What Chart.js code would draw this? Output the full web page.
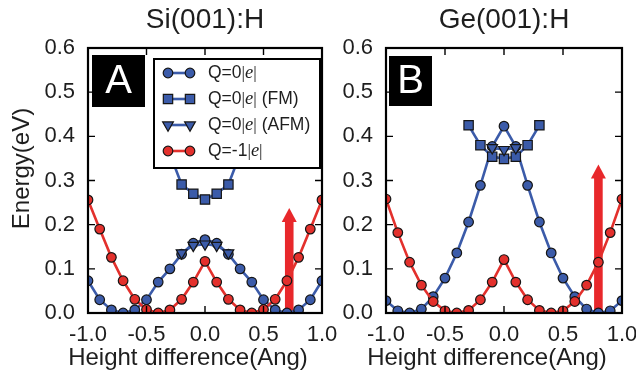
<!DOCTYPE html>
<html>
<head>
<meta charset="utf-8">
<script src="https://cdn.jsdelivr.net/npm/chart.js@4/dist/chart.umd.min.js"></script>
<style>
html,body{margin:0;padding:0;background:#ffffff;}
#wrap{position:relative;width:636px;height:379px;overflow:hidden;background:#fff;}
#wrap canvas{position:absolute;left:0;top:0;}
</style>
</head>
<body>
<div id="wrap">
<canvas id="si" width="636" height="379"></canvas>
<canvas id="ge" width="636" height="379"></canvas>
</div>
<script>
// ---------------- data ----------------
const HEIGHT_X = [-1.0,-0.9,-0.8,-0.7,-0.6,-0.5,-0.4,-0.3,-0.2,-0.1,0.0,0.1,0.2,0.3,0.4,0.5,0.6,0.7,0.8,0.9,1.0];

const SI_Q0    = [0.073,0.030,0.007,0.000,0.007,0.030,0.070,0.100,0.133,0.158,0.166,0.158,0.133,0.100,0.070,0.030,0.007,0.000,0.007,0.030,0.073];
const SI_FM_X  = [-0.3,-0.2,-0.1,0.0,0.1,0.2,0.3];
const SI_FM    = [0.360,0.291,0.270,0.257,0.270,0.291,0.360];
const SI_AFM_X = [-0.2,-0.1,0.0,0.1,0.2];
const SI_AFM   = [0.136,0.153,0.156,0.153,0.136];
const SI_QM1   = [0.256,0.190,0.126,0.073,0.031,0.008,0.000,0.007,0.031,0.070,0.117,0.070,0.031,0.007,0.000,0.008,0.031,0.073,0.126,0.190,0.256];

const GE_Q0    = [0.028,0.005,0.000,0.009,0.037,0.079,0.136,0.206,0.289,0.377,0.423,0.377,0.289,0.206,0.136,0.079,0.037,0.009,0.000,0.005,0.028];
const GE_FM_X  = [-0.3,-0.2,-0.1,0.0,0.1,0.2,0.3];
const GE_FM    = [0.425,0.380,0.354,0.349,0.354,0.380,0.425];
const GE_AFM_X = [-0.1,0.0,0.1];
const GE_AFM   = [0.374,0.370,0.374];
const GE_QM1   = [0.258,0.182,0.115,0.063,0.026,0.005,0.000,0.006,0.030,0.070,0.121,0.070,0.030,0.006,0.000,0.005,0.026,0.063,0.115,0.182,0.258];

const SERIES_LABELS = ['Q=0|e|','Q=0|e| (FM)','Q=0|e| (AFM)','Q=-1|e|'];
const PANEL_TITLES  = ['Si(001):H','Ge(001):H'];
const PANEL_LETTERS = ['A','B'];
const ARROW_X   = [0.72, 0.80];
const ARROW_TOP = [0.238, 0.336];
const X_TICKS = [-1.0,-0.5,0.0,0.5,1.0];
const Y_TICKS = [0.0,0.1,0.2,0.3,0.4,0.5,0.6];
const X_TITLE = 'Height difference(Ang)';
const Y_TITLE = 'Energy(eV)';

// ---------------- styles ----------------
const BLUE = '#3b5ba9';
const RED  = '#e3302c';
const EDGE = '#151515';
const SANS = "'Liberation Sans', Arial, Helvetica, sans-serif";
const SERIF = "'Liberation Serif', 'DejaVu Serif', serif";
const TEXT = '#1e1e1e';

const MARK = {
  circle:   {style:'circle',   radius:4.8, rotation:0},
  rect:     {style:'rect',     radius:6.6, rotation:0},
  triangle: {style:'triangle', radius:6.2, rotation:180}
};

function series(label, xs, ys, color, mark, order){
  return {
    label: label,
    data: xs.map((x,i)=>({x:x, y:ys[i]})),
    borderColor: color,
    backgroundColor: color,
    borderWidth: 2.6,
    tension: 0,
    pointStyle: mark.style,
    pointRadius: mark.radius,
    pointRotation: mark.rotation,
    pointBackgroundColor: color,
    pointBorderColor: EDGE,
    pointBorderWidth: 1.2,
    pointHoverRadius: mark.radius,
    clip: 0,
    order: order
  };
}

// own marker drawing for the legend
function marker(ctx, mark, x, y, fill){
  ctx.save();
  ctx.fillStyle = fill; ctx.strokeStyle = EDGE; ctx.lineWidth = 1.2;
  ctx.beginPath();
  const r = mark.radius;
  if (mark.style === 'circle') { ctx.arc(x, y, r, 0, Math.PI*2); }
  else if (mark.style === 'rect') { const s = Math.SQRT1_2*r; ctx.rect(x-s, y-s, 2*s, 2*s); }
  else {
    let a = mark.rotation*Math.PI/180;
    ctx.moveTo(x + Math.sin(a)*r, y - Math.cos(a)*r);
    a += 2*Math.PI/3; ctx.lineTo(x + Math.sin(a)*r, y - Math.cos(a)*r);
    a += 2*Math.PI/3; ctx.lineTo(x + Math.sin(a)*r, y - Math.cos(a)*r);
    ctx.closePath();
  }
  ctx.fill(); ctx.stroke();
  ctx.restore();
}

function richLabel(ctx, label, x, y, size){
  const parts = label.split('|e|');
  ctx.save();
  ctx.fillStyle = TEXT; ctx.textBaseline = 'middle'; ctx.textAlign = 'left';
  const segs = [
    [parts[0], `${size}px ${SANS}`],
    ['|', `${size}px ${SERIF}`],
    ['e', `italic ${size+1}px ${SERIF}`],
    ['|', `${size}px ${SERIF}`],
    [parts[1] || '', `${size}px ${SANS}`]
  ];
  let cx = x;
  for (const [t, f] of segs) {
    if (!t) continue;
    ctx.font = f; ctx.fillText(t, cx, y); cx += ctx.measureText(t).width;
  }
  ctx.restore();
}

const decor = {
  id: 'decor',
  beforeDatasetsDraw(chart, args, o){
    const {ctx, chartArea: a} = chart;
    const xs = chart.scales.x, ys = chart.scales.y;
    const px = xs.getPixelForValue(o.arrowX);
    const yb = ys.getPixelForValue(0);
    const yt = ys.getPixelForValue(o.arrowTop);
    const sw = 4.3, hw = 7.5, hl = 14;
    ctx.save();
    ctx.beginPath(); ctx.rect(a.left, a.top, a.right-a.left, a.bottom-a.top); ctx.clip();
    ctx.fillStyle = '#e8282b';
    ctx.fillRect(px-sw, yt+hl-1, 2*sw, yb-(yt+hl-1)+2);
    ctx.beginPath(); ctx.moveTo(px, yt); ctx.lineTo(px+hw, yt+hl); ctx.lineTo(px-hw, yt+hl); ctx.closePath(); ctx.fill();
    ctx.restore();
  },
  afterDatasetsDraw(chart, args, o){
    const {ctx, chartArea: a} = chart;
    const xs = chart.scales.x, ys = chart.scales.y;
    ctx.save();
    // inward ticks
    ctx.strokeStyle = '#000'; ctx.lineWidth = 1.4;
    const tl = 7;
    ctx.beginPath();
    X_TICKS.forEach(v => { const p = xs.getPixelForValue(v); ctx.moveTo(p, a.bottom); ctx.lineTo(p, a.bottom-tl); ctx.moveTo(p, a.top); ctx.lineTo(p, a.top+tl); });
    Y_TICKS.forEach(v => { const p = ys.getPixelForValue(v); ctx.moveTo(a.left, p); ctx.lineTo(a.left+tl, p); ctx.moveTo(a.right, p); ctx.lineTo(a.right-tl, p); });
    ctx.stroke();
    // frame
    ctx.lineWidth = 2.2; ctx.strokeStyle = '#000';
    ctx.strokeRect(a.left, a.top, a.right-a.left, a.bottom-a.top);
    // panel letter
    const L = o.letterBox;
    ctx.fillStyle = '#000';
    ctx.fillRect(a.left+L.dx, a.top+L.dy, L.w, L.h);
    ctx.fillStyle = '#fff'; ctx.font = `40px ${SANS}`; ctx.textAlign = 'center'; ctx.textBaseline = 'middle';
    ctx.fillText(o.letter, a.left+L.dx+L.w/2, a.top+L.dy+L.h/2+1);
    // legend
    if (o.legend) {
      const g = o.legend;
      const gx = a.left+g.dx, gy = a.top+g.dy;
      ctx.fillStyle = '#fff'; ctx.fillRect(gx, gy, g.w, g.h);
      ctx.lineWidth = 2; ctx.strokeStyle = '#000'; ctx.strokeRect(gx, gy, g.w, g.h);
      chart.data.datasets.forEach((d, i) => {
        const y = gy + g.row0 + i*g.rowGap;
        const m1 = gx + g.m1, m2 = gx + g.m2;
        ctx.strokeStyle = d.borderColor; ctx.lineWidth = 2.6;
        ctx.beginPath(); ctx.moveTo(m1, y); ctx.lineTo(m2, y); ctx.stroke();
        const mk = {style: d.pointStyle, radius: d.pointRadius, rotation: d.pointRotation};
        marker(ctx, mk, m1, y, d.pointBackgroundColor);
        marker(ctx, mk, m2, y, d.pointBackgroundColor);
        richLabel(ctx, d.label, gx + g.tx, y, 17.5);
      });
    }
    ctx.restore();
  },
  afterDraw(chart, args, o){
    // axis titles (offset from the plot centre as in the original figure)
    const {ctx, chartArea: a} = chart;
    ctx.save();
    ctx.fillStyle = TEXT; ctx.textAlign = 'center'; ctx.textBaseline = 'middle';
    ctx.font = `24px ${SANS}`;
    ctx.fillText(X_TITLE, (a.left+a.right)/2 + o.xTitle.dx, o.xTitle.y);
    if (o.yTitle) {
      ctx.translate(o.yTitle.x, (a.top+a.bottom)/2 + o.yTitle.dy);
      ctx.rotate(-Math.PI/2);
      ctx.font = `24px ${SANS}`;
      ctx.fillText(Y_TITLE, 0, 0);
    }
    ctx.restore();
  }
};

function build(id, idx, datasets, pad, yWidth, yTitle, legend, letterBox){
  return new Chart(document.getElementById(id), {
    type: 'line',
    data: { datasets: datasets },
    plugins: [decor],
    options: {
      responsive: false, animation: false, devicePixelRatio: 1,
      events: [],
      layout: { padding: pad },
      plugins: {
        legend: { display: false },
        tooltip: { enabled: false },
        title: {
          display: true, text: PANEL_TITLES[idx], fullSize: false,
          color: TEXT, font: { family: SANS, size: 28, weight: 'normal', lineHeight: 1.2 },
          padding: { top: 3, bottom: 11.4 }
        },
        decor: { arrowX: ARROW_X[idx], arrowTop: ARROW_TOP[idx], letter: PANEL_LETTERS[idx], legend: legend,
                 letterBox: letterBox, xTitle: {dx: -17, y: 358}, yTitle: yTitle }
      },
      scales: {
        x: {
          type: 'linear', min: -1, max: 1,
          afterBuildTicks: s => { s.ticks = X_TICKS.map(v => ({value: v})); },
          afterFit: s => { s.height = 66; s.paddingLeft = 0; s.paddingRight = 0; },
          grid: { display: false, drawTicks: false },
          border: { display: false },
          ticks: { color: TEXT, font: { family: SANS, size: 22 }, padding: 9, maxRotation: 0, autoSkip: false,
                   callback: v => Number(v).toFixed(1) },
          title: { display: false }
        },
        y: {
          type: 'linear', min: 0, max: 0.6,
          afterBuildTicks: s => { s.ticks = Y_TICKS.map(v => ({value: v})); },
          afterFit: s => { s.width = yWidth; s.paddingTop = 0; s.paddingBottom = 0; },
          grid: { display: false, drawTicks: false },
          border: { display: false },
          ticks: { color: TEXT, font: { family: SANS, size: 22 }, padding: 13, autoSkip: false,
                   callback: v => Number(v).toFixed(1) },
          title: { display: false }
        }
      }
    }
  });
}

build('si', 0, [
  series(SERIES_LABELS[0], HEIGHT_X, SI_Q0,  BLUE, MARK.circle, 3),
  series(SERIES_LABELS[1], SI_FM_X,  SI_FM,  BLUE, MARK.rect, 2),
  series(SERIES_LABELS[2], SI_AFM_X, SI_AFM, BLUE, MARK.triangle, 1),
  series(SERIES_LABELS[3], HEIGHT_X, SI_QM1, RED,  MARK.circle, 0)
], {left: 0, right: 314, top: 0, bottom: 0}, 88, {x: 22, dy: -12},
  {dx: 66, dy: 11, w: 166, h: 109, row0: 14, rowGap: 26, m1: 14, m2: 36, tx: 54},
  {dx: 4, dy: 7, w: 53, h: 52});

build('ge', 1, [
  series(SERIES_LABELS[0], HEIGHT_X, GE_Q0,  BLUE, MARK.circle, 3),
  series(SERIES_LABELS[1], GE_FM_X,  GE_FM,  BLUE, MARK.rect, 2),
  series(SERIES_LABELS[2], GE_AFM_X, GE_AFM, BLUE, MARK.triangle, 1),
  series(SERIES_LABELS[3], HEIGHT_X, GE_QM1, RED,  MARK.circle, 0)
], {left: 336, right: 14, top: 0, bottom: 0}, 50, null, null,
  {dx: 3, dy: 8, w: 43, h: 50});
</script>
</body>
</html>
